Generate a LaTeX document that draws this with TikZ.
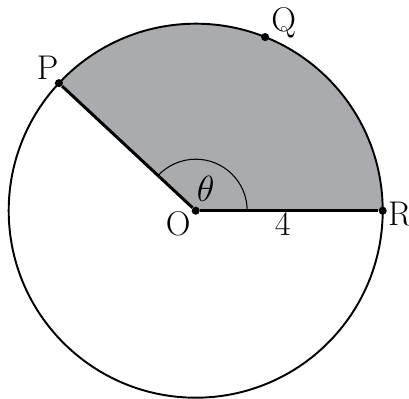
\documentclass[tikz,border=0pt]{standalone}
\usepackage{amsmath,amssymb}
\usepackage{tikz}
\definecolor{sectgray}{RGB}{170,171,174}
\tikzset{
  dot/.style={circle,fill,inner sep=0pt,minimum size=4.6pt},
  lbl/.style={font=\fontsize{19.5}{23}\selectfont},
  rim/.style={line width=1.1pt},
  rad/.style={line width=1.7pt}
}

\begin{document}
\begin{tikzpicture}
\useasboundingbox (-3.914,-3.766) rectangle (4.266,4.214);
\fill[sectgray] (0,0) -- (0:3.74) arc (0:137:3.74) -- cycle;
\draw[rim] (0,0) circle (3.74);
\draw[line width=0.6pt] (0:1.03) arc (0:137:1.03);
\node[dot] (O) at (0,0) {};
\node[dot] (R) at (0:3.74) {};
\node[dot] (P) at (137:3.74) {};
\node[dot] (Q) at (68.2:3.74) {};
\draw[rad] (O)--(R);
\draw[rad] (O)--(P);
\node[lbl] (lO) at (-0.35,-0.26) {O};
\node[lbl] (lR) at (4.08,-0.06) {R};
\node[lbl] (lP) at (-2.96,2.86) {P};
\node[lbl] (lQ) at (1.76,3.76) {Q};
\node[lbl] (l4) at (1.74,-0.26) {4};
\node[lbl] (th) at (0.2,0.44) {$\theta$};
\end{tikzpicture}
\end{document}
